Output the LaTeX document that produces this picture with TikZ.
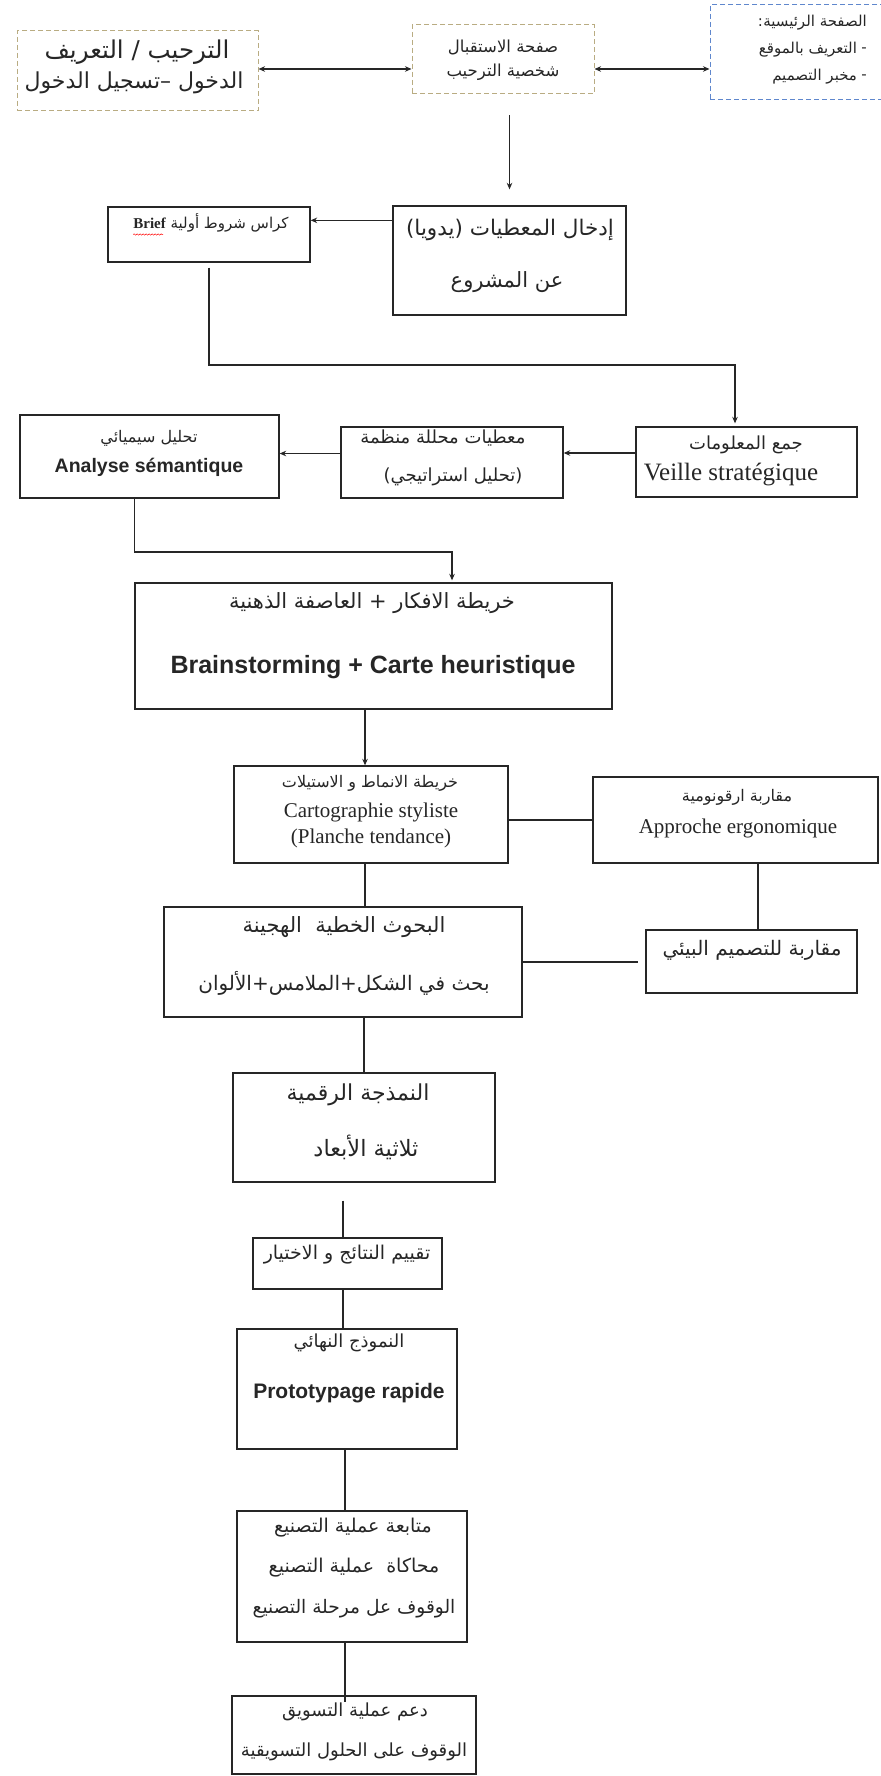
\documentclass[tikz,border=0pt]{standalone}
\usepackage{fontspec}
\usetikzlibrary{arrows.meta,decorations.pathmorphing,calc}
\TeXXeTstate=1
\newfontfamily\arfont[Script=Arabic]{DejaVu Sans}
\newfontfamily\tmsfont{Liberation Serif}
\newfontfamily\hvfont{Liberation Sans}
\newcommand\artext[1]{\beginR #1\endR}
\newcommand\mkbox[6]{\node[#1, minimum width={#5pt-#3pt}, minimum height={#6pt-#4pt}] (#2) at ({(#3+#5)/2},{(#4+#6)/2}) {};}
\begin{document}
\begin{tikzpicture}[x=1pt,y=-1pt,
  box/.style={draw=black!85, line width=1.3pt, inner sep=0pt},
  kbox/.style={draw={rgb,255:red,185;green,172;blue,130}, line width=1pt, dash pattern=on 5pt off 3pt, inner sep=0pt},
  bbox/.style={draw={rgb,255:red,95;green,135;blue,205}, line width=1pt, dash pattern=on 5pt off 3pt, inner sep=0pt},
  conn/.style={draw=black!85, line width=1.1pt},
  arr/.style={conn, -{Stealth[length=6.5pt,width=5.5pt]}},
  darr/.style={conn, {Stealth[length=6.5pt,width=5.5pt]}-{Stealth[length=6.5pt,width=5.5pt]}},
  t/.style={inner sep=0pt, anchor=center, text=black!85},
  ar/.style={t, font=\arfont\fontsize{#1}{#1}\selectfont},
  tm/.style={t, font=\tmsfont\fontsize{#1}{#1}\selectfont},
  hv/.style={t, font=\hvfont\bfseries\fontsize{#1}{#1}\selectfont}
]
\fill[white] (0,0) rectangle (880,1776);
\useasboundingbox (0,0) rectangle (880,1776);

% boxes
\mkbox{kbox}{L}{17}{31}{258}{111}
\mkbox{kbox}{M}{412}{25}{594}{94}
\mkbox{bbox}{R}{710}{5}{886}{100}
\mkbox{box}{In}{393}{206}{626}{315}
\mkbox{box}{Brief}{108}{207}{310}{262}
\mkbox{box}{Ve}{636}{427}{857}{497}
\mkbox{box}{Mi}{341}{427}{563}{498}
\mkbox{box}{An}{20}{415}{279}{498}
\mkbox{box}{Br}{135}{583}{612}{709}
\mkbox{box}{Ca}{234}{766}{508}{863}
\mkbox{box}{Er}{593}{777}{878}{863}
\mkbox{box}{Bh}{164}{907}{522}{1017}
\mkbox{box}{Env}{646}{930}{857}{993}
\mkbox{box}{Nm}{233}{1073}{495}{1182}
\mkbox{box}{Tq}{253}{1238}{442}{1289}
\mkbox{box}{Pr}{237}{1329}{457}{1449}
\mkbox{box}{Mt}{237}{1511}{467}{1642}
\mkbox{box}{Dm}{232}{1696}{476}{1774}

% texts
\node[ar=24.5] (tL1) at (137,52) {\artext{الترحيب / التعريف}};
\node[ar=22] (tL2) at (134,83) {\artext{الدخول –تسجيل الدخول}};
\node[ar=16.5] (tM1) at (503,47) {\artext{صفحة الاستقبال}};
\node[ar=16.5] (tM2) at (503,72) {\artext{شخصية الترحيب}};
\node[ar=15, anchor=east] (tR1) at (867,23) {\artext{الصفحة الرئيسية}};
\node[ar=15, anchor=east] (cR1) at (tR1.west) {:};
\node[ar=15, anchor=east] (dR2) at (867,50) {-};
\node[ar=15, anchor=east] (tR2) at ([xshift=-4pt]dR2.west) {\artext{التعريف بالموقع}};
\node[ar=15, anchor=east] (dR3) at (867,77) {-};
\node[ar=15, anchor=east] (tR3) at ([xshift=-4pt]dR3.west) {\artext{مخبر التصميم}};
\node[ar=15] (tB) at (211,223) {\artext{كراس شروط أولية {\tmsfont\bfseries Brief}}};
\node[ar=21.5] (tIn1) at (510,230) {\artext{إدخال المعطيات (يدويا)}};
\node[ar=21] (tIn2) at (507,282) {\artext{عن المشروع}};
\node[ar=16] (tAn1) at (149,438) {\artext{تحليل سيميائي}};
\node[hv=19.5] (tAn2) at (149,467) {Analyse sémantique};
\node[ar=18] (tMi1) at (443,438) {\artext{معطيات محللة منظمة}};
\node[ar=18] (tMi2) at (453,477) {\artext{(تحليل استراتيجي)}};
\node[ar=18] (tVe1) at (746,445) {\artext{جمع المعلومات}};
\node[tm=25] (tVe2) at (731,475) {Veille stratégique};
\node[ar=21] (tBr1) at (372,603) {\artext{خريطة الافكار + العاصفة الذهنية}};
\node[hv=25] (tBr2) at (373,667) {Brainstorming + Carte heuristique};
\node[ar=16] (tCa1) at (370,783) {\artext{خريطة الانماط و الاستيلات}};
\node[tm=21] (tCa2) at (371,812) {Cartographie styliste};
\node[tm=21] (tCa3) at (371,838) {(Planche tendance)};
\node[ar=16] (tEr1) at (737,797) {\artext{مقاربة ارقونومية}};
\node[tm=21] (tEr2) at (738,828) {Approche ergonomique};
\node[ar=21] (tBh1) at (344,927) {\artext{البحوث الخطية\ \ الهجينة}};
\node[ar=20] (tBh2) at (344,983) {\artext{بحث في الشكل+الملامس+الألوان}};
\node[ar=20] (tEnv) at (752,950) {\artext{مقاربة للتصميم البيئي}};
\node[ar=22] (tNm1) at (358,1095) {\artext{النمذجة الرقمية}};
\node[ar=22.5] (tNm2) at (366,1147) {\artext{ثلاثية الأبعاد}};
\node[ar=19] (tTq) at (347,1255) {\artext{تقييم النتائج و الاختيار}};
\node[ar=18] (tPr1) at (349,1343) {\artext{النموذج النهائي}};
\node[hv=21] (tPr2) at (349,1393) {Prototypage rapide};
\node[ar=19] (tMt1) at (353,1528) {\artext{متابعة عملية التصنيع}};
\node[ar=19] (tMt2) at (354,1568) {\artext{محاكاة\ \ عملية التصنيع}};
\node[ar=18.6] (tMt3) at (354,1609) {\artext{الوقوف عل مرحلة التصنيع}};
\node[ar=18] (tDm1) at (355,1712) {\artext{دعم عملية التسويق}};
\node[ar=18] (tDm2) at (354,1752) {\artext{الوقوف على الحلول التسويقية}};

% spell-check underline
\draw[red, line width=0.5pt, decorate, decoration={snake, amplitude=0.7pt, segment length=3pt}] ([yshift=-2pt]tB.south west) -- ([yshift=-2pt,xshift=30pt]tB.south west);

% connectors
\draw[darr] ([yshift=2pt]L.east) -- ([yshift=2pt]L.east -| M.west);
\draw[darr] ([yshift=-9.5pt]M.east) -- ([yshift=-9.5pt]M.east -| R.west);
\draw[arr, shorten <=21pt, shorten >=16pt] (M.south -| In.north) -- (In.north);
\draw[arr] ([yshift=-15pt]In.north west) -- ([yshift=-15pt]In.north west -| Brief.east);
\coordinate (j1) at (735,365);
\draw[arr, shorten <=5pt, shorten >=3pt] (Brief.south) |- (j1) -- (j1 |- Ve.north);
\draw[arr] ([yshift=9pt]Ve.west) -- ([yshift=9pt]Ve.west -| Mi.east);
\draw[arr] ([yshift=9pt]Mi.west) -- ([yshift=9pt]Mi.west -| An.east);
\coordinate (j2) at (452,552);
\draw[arr, shorten >=2pt] (Br.west |- An.south) |- (j2) -- (j2 |- Br.north);
\draw[arr] ([xshift=-6pt]Ca.north |- Br.south) -- ([xshift=-6pt]Ca.north);
\draw[conn] (Er.west) -- (Er.west -| Ca.east);
\draw[conn] ([xshift=-6pt]Ca.south) -- ([xshift=-6pt]Ca.south |- Bh.north);
\draw[conn] ([xshift=6.5pt]Env.north |- Er.south) -- ([xshift=6.5pt]Env.north);
\draw[conn, shorten >=7pt] (Bh.east) -- (Bh.east -| Env.west);
\draw[conn] (Nm.north |- Bh.south) -- (Nm.north);
\draw[conn, shorten <=18pt] ([xshift=-4.5pt]Tq.north |- Nm.south) -- ([xshift=-4.5pt]Tq.north);
\draw[conn] ([xshift=-4.5pt]Tq.south) -- ([xshift=-4.5pt]Tq.south |- Pr.north);
\draw[conn] ([xshift=-2pt]Pr.south) -- ([xshift=-2pt]Pr.south |- Mt.north);
\draw[conn, shorten >=-7pt] ([xshift=-7pt]Mt.south) -- ([xshift=-7pt]Mt.south |- Dm.north);
\end{tikzpicture}
\end{document}
